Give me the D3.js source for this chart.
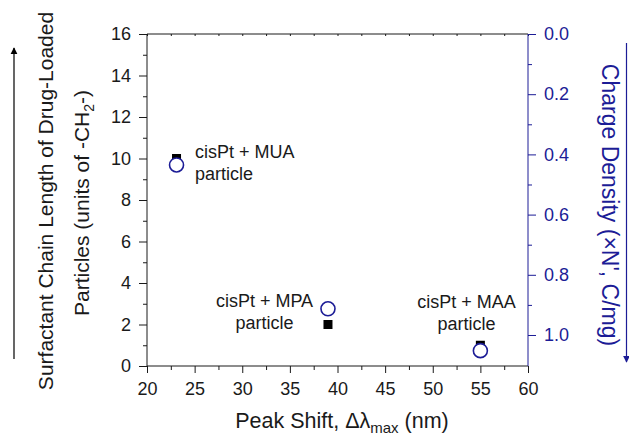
<!DOCTYPE html>
<html><head><meta charset="utf-8">
<script src="https://cdn.jsdelivr.net/npm/d3@7"></script>
<style>body{margin:0;background:#fff}svg{display:block}text{font-family:"Liberation Sans",Arial,sans-serif}</style>
</head><body>
<svg id="c" width="629" height="437"></svg>
<script>
const particles = ["cisPt + MUA", "cisPt + MPA", "cisPt + MAA"];
const peakShift = [23.1, 39, 55];
const chainLength = [10, 2, 1];
const chargeDensity = [0.435, 0.913, 1.052];
const xTicks = [20, 25, 30, 35, 40, 45, 50, 55, 60];
const yLeftTicks = [0, 2, 4, 6, 8, 10, 12, 14, 16];
const yRightTicks = [0.0, 0.2, 0.4, 0.6, 0.8, 1.0];

(function () {
const svg = d3.select("#c");
const L = 147, R = 528, T = 34, B = 366;
const blue = "#1c1c96";
const ink = "#1a1a1a";
const FF = '"Liberation Sans",Arial,sans-serif';
const x = d3.scaleLinear().domain([20, 60]).range([L, R]);
const yl = d3.scaleLinear().domain([0, 16]).range([B, T]);
const yr = d3.scaleLinear().domain([0, 1.103]).range([T, B]);

// top frame with tiny inward ticks
const topAx = svg.append("g").attr("transform", `translate(0,${T})`)
  .call(d3.axisBottom(x).tickValues(d3.range(20, 60.01, 2.5)).tickSize(2).tickFormat(""));
topAx.select(".domain").attr("stroke", ink).attr("d", `M${L},0H${R}`);
topAx.selectAll("line").attr("stroke", ink);

// bottom axis
const xa = svg.append("g").attr("transform", `translate(0,${B})`)
  .call(d3.axisBottom(x).tickValues(xTicks).tickSize(7).tickPadding(9).tickFormat(d3.format("d")));
xa.select(".domain").attr("stroke", ink).attr("d", `M${L},0H${R}`);
xa.selectAll("line").attr("stroke", ink);
xa.selectAll("text").attr("font-size", 18).attr("fill", ink).style("font-family", FF);
const xm = svg.append("g").attr("transform", `translate(0,${B})`)
  .call(d3.axisBottom(x).tickValues(d3.range(22.5, 60, 5)).tickSize(4).tickFormat(""));
xm.select(".domain").remove();
xm.selectAll("line").attr("stroke", ink);

// left axis
const la = svg.append("g").attr("transform", `translate(${L},0)`)
  .call(d3.axisLeft(yl).tickValues(yLeftTicks).tickSize(8).tickPadding(8).tickFormat(d3.format("d")));
la.select(".domain").attr("stroke", ink).attr("d", `M0,${T}V${B}`);
la.selectAll("line").attr("stroke", ink);
la.selectAll("text").attr("font-size", 18).attr("fill", ink).style("font-family", FF);
const lm = svg.append("g").attr("transform", `translate(${L},0)`)
  .call(d3.axisLeft(yl).tickValues(d3.range(1, 16, 2)).tickSize(4).tickFormat(""));
lm.select(".domain").remove();
lm.selectAll("line").attr("stroke", ink);

// right axis
const ra = svg.append("g").attr("transform", `translate(${R},0)`)
  .call(d3.axisRight(yr).tickValues(yRightTicks).tickSize(8).tickPadding(8).tickFormat(d3.format(".1f")));
ra.select(".domain").attr("stroke", blue).attr("d", `M0,${T}V${B}`);
ra.selectAll("line").attr("stroke", blue);
ra.selectAll("text").attr("font-size", 18).attr("fill", blue).style("font-family", FF);
const rm = svg.append("g").attr("transform", `translate(${R},0)`)
  .call(d3.axisRight(yr).tickValues(d3.range(0.1, 1.1, 0.2)).tickSize(4).tickFormat(""));
rm.select(".domain").remove();
rm.selectAll("line").attr("stroke", blue);

// squares
svg.append("g").selectAll("rect").data(particles).join("rect")
  .attr("x", (d, i) => x(peakShift[i]) - 4.5).attr("y", (d, i) => yl(chainLength[i]) - 4.5)
  .attr("width", 9).attr("height", 9).attr("fill", "#000");
// circles
svg.append("g").selectAll("circle").data(particles).join("circle")
  .attr("cx", (d, i) => x(peakShift[i])).attr("cy", (d, i) => yr(chargeDensity[i]))
  .attr("r", 7).attr("fill", "#fff").attr("stroke", blue).attr("stroke-width", 1.6);

function label(xp, yp, anchor, l1, l2) {
  const t = svg.append("text").attr("font-size", 18).attr("fill", ink).attr("text-anchor", anchor);
  t.append("tspan").attr("x", xp).attr("y", yp).text(l1);
  t.append("tspan").attr("x", xp).attr("y", yp + 22).text(l2);
}
label(195, 158, "start", particles[0], "particle");
label(264.5, 307, "middle", particles[1], "particle");
label(466.5, 308, "middle", particles[2], "particle");

// axis titles
svg.append("text").attr("transform", `translate(53,201) rotate(-90)`).attr("text-anchor", "middle")
  .attr("font-size", 21).attr("fill", ink).text("Surfactant Chain Length of Drug-Loaded");
const lt2 = svg.append("text").attr("transform", `translate(89,203) rotate(-90)`).attr("text-anchor", "middle")
  .attr("font-size", 21).attr("fill", ink);
lt2.append("tspan").text("Particles (units of -CH");
lt2.append("tspan").attr("font-size", 14).attr("dy", 5).text("2");
lt2.append("tspan").attr("dy", -5).text("-)");

const xt = svg.append("text").attr("x", 342).attr("y", 428).attr("text-anchor", "middle")
  .attr("font-size", 21.5).attr("fill", ink);
xt.append("tspan").text("Peak Shift, \u0394\u03bb");
xt.append("tspan").attr("font-size", 15).attr("dy", 5).text("max");
xt.append("tspan").attr("dy", -5).text(" (nm)");

svg.append("text").attr("transform", `translate(602,205) rotate(90)`).attr("text-anchor", "middle")
  .attr("font-size", 23).attr("fill", blue).text("Charge Density (\u00d7N', C/mg)");

// arrows
svg.append("defs").html(`
<marker id="ah" viewBox="0 0 10 10" refX="9" refY="5" markerWidth="7" markerHeight="9" orient="auto" markerUnits="userSpaceOnUse"><path d="M0,0L10,5L0,10z" fill="#000"/></marker>
<marker id="ahb" viewBox="0 0 10 10" refX="9" refY="5" markerWidth="7" markerHeight="9" orient="auto" markerUnits="userSpaceOnUse"><path d="M0,0L10,5L0,10z" fill="${blue}"/></marker>`);
svg.append("line").attr("x1", 14).attr("x2", 14).attr("y1", 359).attr("y2", 48).attr("stroke", "#000").attr("stroke-width", 1.2).attr("marker-end", "url(#ah)");
svg.append("line").attr("x1", 626.5).attr("x2", 626.5).attr("y1", 43).attr("y2", 362).attr("stroke", blue).attr("stroke-width", 1.2).attr("marker-end", "url(#ahb)");
})();
</script>
</body></html>
